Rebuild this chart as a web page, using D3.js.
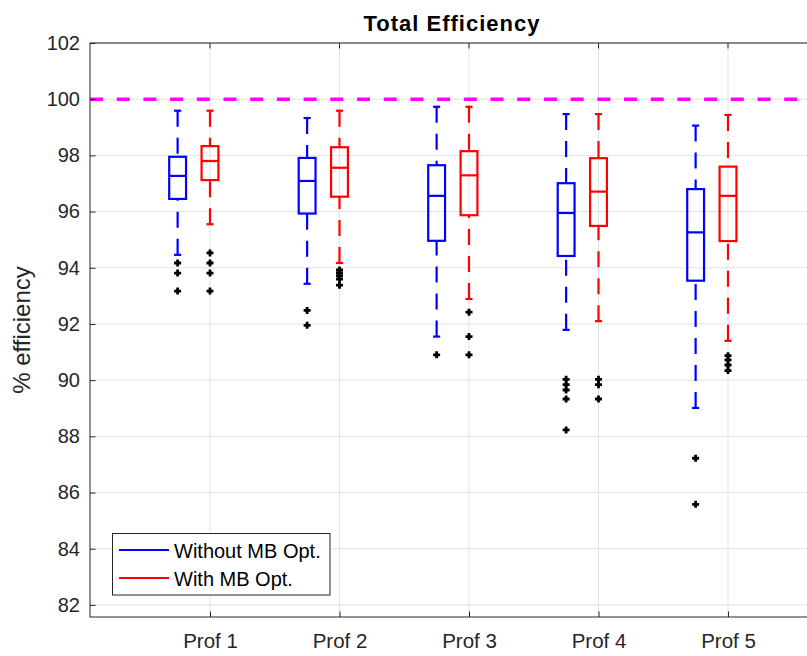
<!DOCTYPE html>
<html>
<head>
<meta charset="utf-8">
<script src="https://cdn.jsdelivr.net/npm/d3@7"></script>
<style>
  html, body { margin: 0; padding: 0; background: #fff; }
  svg { display: block; font-family: "Liberation Sans", Arial, Helvetica, sans-serif; }
</style>
</head>
<body>
<svg id="chart" width="807" height="656"></svg>
<script>
// Profiles along the x axis
const categories = ["Prof 1", "Prof 2", "Prof 3", "Prof 4", "Prof 5"];
const seriesNames = ["Without MB Opt.", "With MB Opt."];
const seriesColors = ["#0000ff", "#ff0000"];

// Without MB Opt. — box statistics per profile (% efficiency)
const withoutLowerWhisker = [94.46, 93.43, 91.55, 91.79, 89.01];
const withoutQ1          = [96.45, 95.93, 94.96, 94.42, 93.54];
const withoutMedian      = [97.27, 97.09, 96.56, 95.95, 95.26];
const withoutQ3          = [97.95, 97.91, 97.65, 97.01, 96.80];
const withoutUpperWhisker= [99.59, 99.33, 99.73, 99.47, 99.06];
const withoutOutliers = [
  [94.17, 93.81, 93.17],
  [92.48, 91.95],
  [90.90],
  [90.03, 89.84, 89.65, 89.33, 88.23],
  [87.22, 85.58]
];

// With MB Opt. — box statistics per profile (% efficiency)
const withLowerWhisker = [95.55, 94.17, 92.89, 92.10, 91.40];
const withQ1           = [97.12, 96.53, 95.87, 95.49, 94.95];
const withMedian       = [97.80, 97.56, 97.29, 96.71, 96.56];
const withQ3           = [98.33, 98.29, 98.15, 97.90, 97.60];
const withUpperWhisker = [99.59, 99.59, 99.73, 99.47, 99.44];
const withOutliers = [
  [94.53, 94.17, 93.81, 93.17],
  [93.92, 93.82, 93.72, 93.60, 93.38],
  [92.42, 91.55, 90.90],
  [90.03, 89.84, 89.33],
  [90.87, 90.72, 90.54, 90.34]
];

const yTicks = [82, 84, 86, 88, 90, 92, 94, 96, 98, 100, 102];
const referenceLevel = 100;

// Group offsets (data units along x) and box geometry
const seriesOffsets = [-0.25, 0];
const boxWidth = 0.13;
const capWidth = 0.055;

const series = [
  { lw: withoutLowerWhisker, q1: withoutQ1, med: withoutMedian, q3: withoutQ3, uw: withoutUpperWhisker, out: withoutOutliers },
  { lw: withLowerWhisker, q1: withQ1, med: withMedian, q3: withQ3, uw: withUpperWhisker, out: withOutliers }
];

const svg = d3.select("#chart");
const plotLeft = 90, plotTop = 43, plotBottom = 617, plotRight = 848;

const x = d3.scaleLinear().domain([0.0734, 5.9266]).range([plotLeft, plotRight]);
const y = d3.scaleLinear().domain([81.57, 102]).range([plotBottom, plotTop]);

const axisColor = "#262626";
const gridColor = "#e3e3e3";

// Grid
const grid = svg.append("g");
grid.selectAll("line.gy").data(yTicks).join("line")
  .attr("x1", plotLeft).attr("x2", plotRight)
  .attr("y1", d => y(d)).attr("y2", d => y(d))
  .attr("stroke", gridColor).attr("stroke-width", 1);
grid.selectAll("line.gx").data(categories).join("line")
  .attr("x1", (d, i) => x(i + 1)).attr("x2", (d, i) => x(i + 1))
  .attr("y1", plotTop).attr("y2", plotBottom)
  .attr("stroke", gridColor).attr("stroke-width", 1);

// 100 % reference line
svg.append("line")
  .attr("x1", plotLeft).attr("x2", plotRight)
  .attr("y1", y(referenceLevel)).attr("y2", y(referenceLevel))
  .attr("stroke", "#ff00ff").attr("stroke-width", 3.5)
  .attr("stroke-dasharray", "13,13.7");

// Box plots
series.forEach((s, si) => {
  const g = svg.append("g");
  const color = seriesColors[si];
  categories.forEach((c, i) => {
    const cx = i + 1 + seriesOffsets[si];
    // whiskers (dashed, drawn from the whisker end toward the box)
    g.append("line")
      .attr("x1", x(cx)).attr("x2", x(cx))
      .attr("y1", y(s.uw[i])).attr("y2", y(s.q3[i]))
      .attr("stroke", color).attr("stroke-width", 2.2)
      .attr("stroke-dasharray", "16,11");
    g.append("line")
      .attr("x1", x(cx)).attr("x2", x(cx))
      .attr("y1", y(s.lw[i])).attr("y2", y(s.q1[i]))
      .attr("stroke", color).attr("stroke-width", 2.2)
      .attr("stroke-dasharray", "16,11");
    // whisker caps
    [s.uw[i], s.lw[i]].forEach(v => {
      g.append("line")
        .attr("x1", x(cx - capWidth / 2)).attr("x2", x(cx + capWidth / 2))
        .attr("y1", y(v)).attr("y2", y(v))
        .attr("stroke", color).attr("stroke-width", 2.2);
    });
    // box
    g.append("rect")
      .attr("x", x(cx - boxWidth / 2))
      .attr("y", y(s.q3[i]))
      .attr("width", x(cx + boxWidth / 2) - x(cx - boxWidth / 2))
      .attr("height", y(s.q1[i]) - y(s.q3[i]))
      .attr("fill", "none").attr("stroke", color).attr("stroke-width", 2.2);
    // median
    g.append("line")
      .attr("x1", x(cx - boxWidth / 2)).attr("x2", x(cx + boxWidth / 2))
      .attr("y1", y(s.med[i])).attr("y2", y(s.med[i]))
      .attr("stroke", color).attr("stroke-width", 2.2);
    // outliers
    s.out[i].forEach(v => {
      const px = x(cx), py = y(v);
      g.append("path")
        .attr("d", `M${px - 3.5},${py}H${px + 3.5}M${px},${py - 3.5}V${py + 3.5}`)
        .attr("stroke", "#000").attr("stroke-width", 2.8);
    });
  });
});

// Axes box
svg.append("rect")
  .attr("x", plotLeft).attr("y", plotTop)
  .attr("width", plotRight - plotLeft).attr("height", plotBottom - plotTop)
  .attr("fill", "none").attr("stroke", axisColor).attr("stroke-width", 1);

const yAxis = d3.axisLeft(y).tickValues(yTicks).tickSize(-5.5).tickPadding(10).tickFormat(d3.format("d"));
const yg = svg.append("g").attr("transform", `translate(${plotLeft},0)`).call(yAxis);
yg.select(".domain").remove();
yg.selectAll("line").attr("stroke", axisColor);
yg.selectAll("text").attr("fill", axisColor).attr("font-size", 20)
  .attr("font-family", "Liberation Sans, Arial, sans-serif");

const xAxis = d3.axisBottom(x).tickValues(categories.map((c, i) => i + 1))
  .tickSize(-5.5).tickPadding(16).tickFormat((d, i) => categories[i]);
const xg = svg.append("g").attr("transform", `translate(0,${plotBottom})`).call(xAxis);
xg.select(".domain").remove();
xg.selectAll("line").attr("stroke", axisColor);
xg.selectAll("text").attr("fill", axisColor).attr("font-size", 20.5)
  .attr("font-family", "Liberation Sans, Arial, sans-serif");

// top ticks
svg.append("g").selectAll("line").data(categories).join("line")
  .attr("x1", (d, i) => x(i + 1)).attr("x2", (d, i) => x(i + 1))
  .attr("y1", plotTop).attr("y2", plotTop + 5.5)
  .attr("stroke", axisColor);

// Title
svg.append("text")
  .attr("x", 452).attr("y", 31)
  .attr("text-anchor", "middle")
  .attr("font-size", 22).attr("font-weight", "bold")
  .attr("letter-spacing", 1)
  .attr("fill", "#000")
  .text("Total Efficiency");

// Y label
svg.append("text")
  .attr("transform", `translate(30,${(plotTop + plotBottom) / 2}) rotate(-90)`)
  .attr("text-anchor", "middle")
  .attr("font-size", 24)
  .attr("fill", axisColor)
  .text("% efficiency");

// Legend
const lg = svg.append("g");
lg.append("rect")
  .attr("x", 112.5).attr("y", 533.5).attr("width", 217.5).attr("height", 61.5)
  .attr("fill", "#fff").attr("stroke", axisColor).attr("stroke-width", 1);
seriesNames.forEach((name, i) => {
  const ly = 550 + i * 28;
  lg.append("line")
    .attr("x1", 119).attr("x2", 169).attr("y1", ly).attr("y2", ly)
    .attr("stroke", seriesColors[i]).attr("stroke-width", 2.2);
  lg.append("text")
    .attr("x", 174).attr("y", ly + 8)
    .attr("font-size", 20).attr("fill", "#000")
    .text(name);
});
</script>
</body>
</html>
